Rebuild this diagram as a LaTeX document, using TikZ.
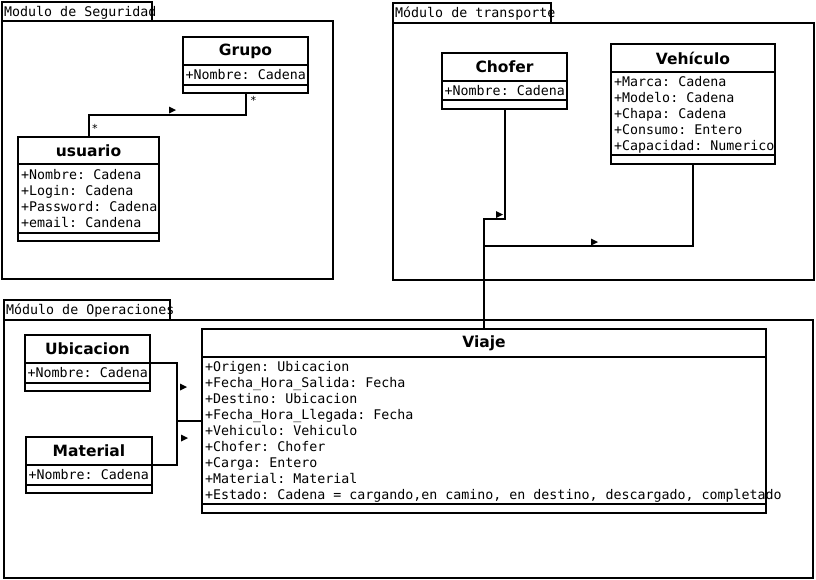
\documentclass[tikz,border=0pt]{standalone}
\usepackage{fontspec}
\setmainfont{DejaVu Sans}
\setmonofont{DejaVu Sans Mono}
\usetikzlibrary{fit}
\tikzset{
  box/.style={draw, line width=2pt, inner sep=0pt, outer sep=0pt},
  conn/.style={line width=2pt},
  attr/.style={font=\ttfamily\fontsize{13.3}{16}\selectfont, anchor=base west, inner sep=0pt},
  ttl/.style={font=\bfseries\fontsize{15.5}{18}\selectfont, inner sep=0pt},
  mult/.style={font=\ttfamily\fontsize{11}{12}\selectfont, inner sep=0pt},
}
\newcommand\umlclass[8]{%
  \coordinate (#1-nw) at (#2,#3);
  \coordinate (#1-se) at (#4,#5);
  \node[box, fit=(#1-nw)(#1-se)] (#1) {};
  \draw[conn] (#2,#6) -- (#4,#6);
  \draw[conn] (#2,#7) -- (#4,#7);
  \node[ttl] (#1-title) at ({(#2+#4)/2},{(#3+#6)/2}) {#8};
}
\newcommand\dirtri[2]{\fill (#1,#2-3.5) -- (#1+7,#2) -- (#1,#2+3.5) -- cycle;}
\begin{document}
\begin{tikzpicture}[x=1pt,y=-1pt]
\useasboundingbox (0,0) rectangle (816,579);
% packages
\draw[conn] (2,2) rectangle (152,21);
\draw[conn] (2,21) rectangle (333,279);
\node[attr] (pkgseg) at (4,16) {Modulo de Seguridad};
\draw[conn] (393,3) rectangle (551,23);
\draw[conn] (393,23) rectangle (814,280);
\node[attr] (pkgtra) at (395,17) {Módulo de transporte};
\draw[conn] (4,300) rectangle (170,320);
\draw[conn] (4,320) rectangle (813,578);
\node[attr] (pkgope) at (6,314) {Módulo de Operaciones};
% classes
\umlclass{grupo}{183}{37}{308}{93}{65}{85}{Grupo}
\node[attr] (grupo-a1) at (185.5,79) {+Nombre: Cadena};
\umlclass{usuario}{18}{137}{159}{241}{164}{233}{usuario}
\node[attr] (usuario-a1) at (21,179) {+Nombre: Cadena};
\node[attr] (usuario-a2) at (21,195) {+Login: Cadena};
\node[attr] (usuario-a3) at (21,211) {+Password: Cadena};
\node[attr] (usuario-a4) at (21,227) {+email: Candena};
\umlclass{chofer}{442}{53}{567}{109}{81}{100}{Chofer}
\node[attr] (chofer-a1) at (444.5,95) {+Nombre: Cadena};
\umlclass{vehiculo}{611}{44}{775}{164}{72}{155}{Vehículo}
\node[attr] (veh-a1) at (614,86) {+Marca: Cadena};
\node[attr] (veh-a2) at (614,102) {+Modelo: Cadena};
\node[attr] (veh-a3) at (614,118) {+Chapa: Cadena};
\node[attr] (veh-a4) at (614,134) {+Consumo: Entero};
\node[attr] (veh-a5) at (614,150) {+Capacidad: Numerico};
\umlclass{ubicacion}{25}{335}{150}{391}{363}{383}{Ubicacion}
\node[attr] (ubi-a1) at (27.5,377) {+Nombre: Cadena};
\umlclass{material}{26}{437}{152}{493}{465}{485}{Material}
\node[attr] (mat-a1) at (28.5,479) {+Nombre: Cadena};
\umlclass{viaje}{202}{329}{766}{513}{357}{504}{Viaje}
\node[attr] (via-a1) at (205,371) {+Origen: Ubicacion};
\node[attr] (via-a2) at (205,387) {+Fecha\_Hora\_Salida: Fecha};
\node[attr] (via-a3) at (205,403) {+Destino: Ubicacion};
\node[attr] (via-a4) at (205,419) {+Fecha\_Hora\_Llegada: Fecha};
\node[attr] (via-a5) at (205,435) {+Vehiculo: Vehiculo};
\node[attr] (via-a6) at (205,451) {+Chofer: Chofer};
\node[attr] (via-a7) at (205,467) {+Carga: Entero};
\node[attr] (via-a8) at (205,483) {+Material: Material};
\node[attr] (via-a9) at (205,499) {+Estado: Cadena = cargando,en camino, en destino, descargado, completado};
% connectors
\draw[conn] (grupo.south) -- ++(0,22) -| (usuario.north);
\node[mult] (m1) at (253.5,100) {*};
\node[mult] (m2) at (95,128) {*};
\dirtri{169}{110}
\coordinate (j1) at (484,219);
\coordinate (j2) at (484,246);
\draw[conn] (chofer.south) |- (j1) -- (viaje.north);
\draw[conn] (vehiculo.south) |- (j2);
\dirtri{496}{214.5}
\dirtri{591}{242}
\coordinate (j3) at (176.5,421);
\draw[conn] (ubicacion.east) -| (j3) -- (viaje.west);
\draw[conn] (material.east) -| (j3);
\dirtri{180}{387}
\dirtri{181}{438}
\end{tikzpicture}
\end{document}
